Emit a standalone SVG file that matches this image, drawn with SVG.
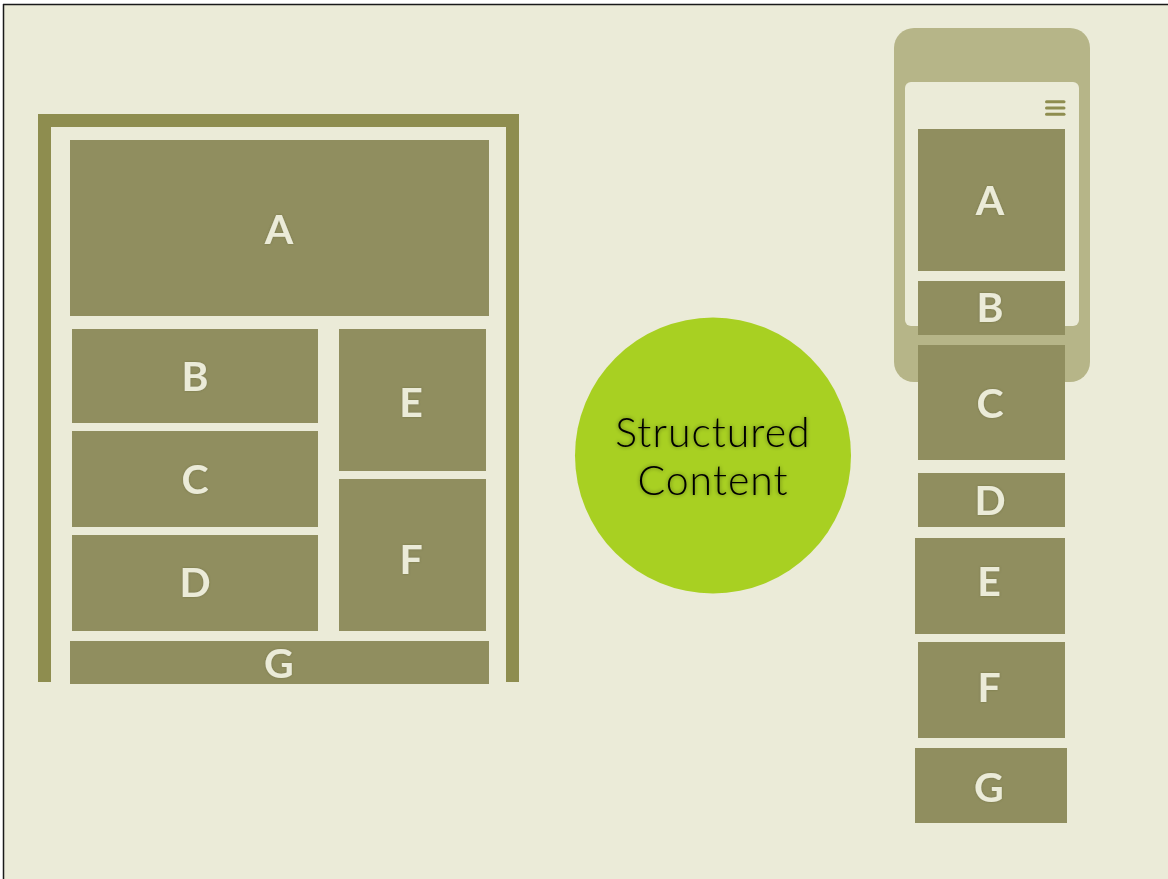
<svg xmlns="http://www.w3.org/2000/svg" width="1168" height="879" viewBox="0 0 1168 879">
<style>
.box{fill:#908E5F}
.lbl{font-family:Lato,"Liberation Sans",sans-serif;font-weight:700;font-size:41px;fill:#EBEBD8;text-anchor:middle;filter:url(#ls)}
.frame{fill:#8E8D4F}
.ctxt{font-family:Lato,"Open Sans",sans-serif;font-weight:300;font-size:41px;letter-spacing:1px;fill:#000;text-anchor:middle;filter:url(#glow)}
</style>
<defs>
<filter id="ls" x="-20%" y="-20%" width="140%" height="140%">
<feDropShadow dx="0" dy="0" stdDeviation="1" flood-color="#5a5a30" flood-opacity="0.5"/>
</filter>
<filter id="glow" x="-10%" y="-20%" width="120%" height="140%">
<feGaussianBlur in="SourceAlpha" stdDeviation="2"/>
<feComponentTransfer><feFuncA type="linear" slope="0.45"/></feComponentTransfer>
<feMerge><feMergeNode/><feMergeNode in="SourceGraphic"/></feMerge>
</filter>
</defs>
<rect x="0" y="0" width="1168" height="879" fill="#ffffff"/>
<rect x="3" y="4" width="1165" height="875" fill="#EBEBD8"/>
<line x1="3.5" y1="4" x2="3.5" y2="879" stroke="#1a1a1a" stroke-width="1.5"/>
<line x1="3" y1="4.5" x2="1168" y2="4.5" stroke="#1a1a1a" stroke-width="1.5"/>

<g id="desktop-frame">
<rect class="frame" x="38" y="114" width="481" height="13"/>
<rect class="frame" x="38" y="114" width="13" height="568"/>
<rect class="frame" x="506" y="114" width="13" height="568"/>
</g>
<g id="desktop-A"><rect class="box" x="70" y="140" width="419" height="176"/><text class="lbl" x="279" y="244">A</text></g>
<g id="desktop-B"><rect class="box" x="72" y="329" width="246" height="94"/><text class="lbl" x="195" y="391">B</text></g>
<g id="desktop-C"><rect class="box" x="72" y="431" width="246" height="96"/><text class="lbl" x="195" y="494">C</text></g>
<g id="desktop-D"><rect class="box" x="72" y="535" width="246" height="96"/><text class="lbl" x="195" y="597">D</text></g>
<g id="desktop-E"><rect class="box" x="339" y="329" width="147" height="142"/><text class="lbl" x="411" y="417">E</text></g>
<g id="desktop-F"><rect class="box" x="339" y="479" width="147" height="152"/><text class="lbl" x="411" y="574">F</text></g>
<g id="desktop-G"><rect class="box" x="70" y="641" width="419" height="43"/><text class="lbl" x="279" y="678">G</text></g>

<g id="structured-content">
<circle cx="713" cy="455.5" r="138" fill="#A8D022"/>
<text class="ctxt" x="713" y="447">Structured</text>
<text class="ctxt" x="713" y="495">Content</text>
</g>

<g id="phone">
<rect x="894" y="28" width="196" height="354" rx="20" fill="#B6B588"/>
<rect x="905" y="82" width="174" height="244" rx="6" fill="#EBEBD8"/>
<g stroke="#8E8D4F" stroke-width="3" stroke-linecap="round">
<line x1="1046.5" y1="101.7" x2="1064" y2="101.7"/>
<line x1="1046.5" y1="108" x2="1064" y2="108"/>
<line x1="1046.5" y1="114.3" x2="1064" y2="114.3"/>
</g>
</g>
<g id="mobile-A"><rect class="box" x="918" y="129" width="147" height="142"/><text class="lbl" x="990" y="215">A</text></g>
<g id="mobile-B"><rect class="box" x="918" y="281" width="147" height="54"/><text class="lbl" x="990" y="322">B</text></g>
<g id="mobile-C"><rect class="box" x="918" y="345" width="147" height="115"/><text class="lbl" x="990" y="418">C</text></g>
<g id="mobile-D"><rect class="box" x="918" y="473" width="147" height="54"/><text class="lbl" x="990" y="515">D</text></g>
<g id="mobile-E"><rect class="box" x="915" y="538" width="150" height="96"/><text class="lbl" x="989" y="596">E</text></g>
<g id="mobile-F"><rect class="box" x="918" y="642" width="147" height="96"/><text class="lbl" x="989" y="702">F</text></g>
<g id="mobile-G"><rect class="box" x="915" y="748" width="152" height="75"/><text class="lbl" x="989" y="802">G</text></g>
</svg>
